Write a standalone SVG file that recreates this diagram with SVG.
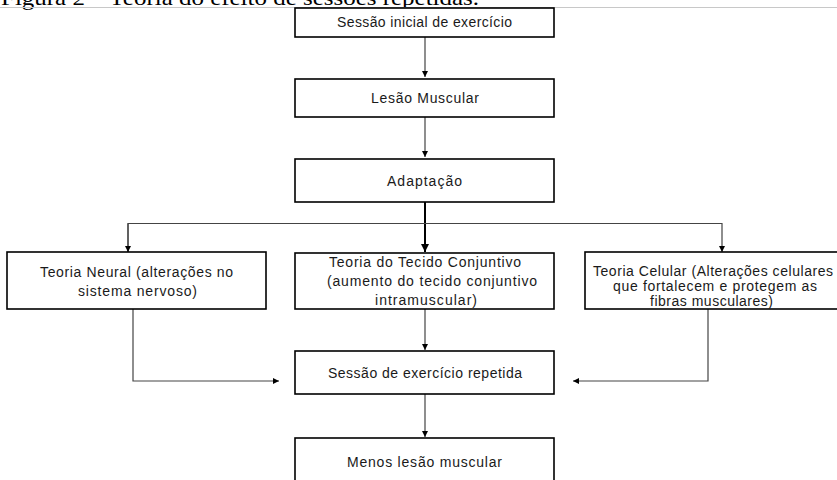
<svg xmlns="http://www.w3.org/2000/svg" width="837" height="480" viewBox="0 0 837 480">
<defs>
<marker id="ah" viewBox="0 0 10 10" refX="10" refY="5" markerWidth="6" markerHeight="6" markerUnits="userSpaceOnUse" orient="auto">
<path d="M0,0 L10,5 L0,10 z" fill="#000"/>
</marker>
<marker id="ahb" viewBox="0 0 10 10" refX="10" refY="5" markerWidth="8" markerHeight="8" markerUnits="userSpaceOnUse" orient="auto">
<path d="M0,0 L10,5 L0,10 z" fill="#000"/>
</marker>
</defs>
<style>
.box{fill:#fff;stroke:#000;stroke-width:1.6}
.t{font-family:"Liberation Sans",Arial,sans-serif;font-size:14px;fill:#1a1a1a;text-anchor:middle}
.c{fill:none;stroke:#444;stroke-width:1.2}
.cb{fill:none;stroke:#000;stroke-width:2}
.cap{font-family:"Liberation Serif","Times New Roman",serif;font-size:21px;fill:#000}
</style>
<rect width="837" height="480" fill="#fff"/>
<text class="cap" x="1" y="4.5" textLength="478" lengthAdjust="spacingAndGlyphs">Figura 2 – Teoria do efeito de sessões repetidas.</text>
<line x1="0" y1="7.5" x2="837" y2="7.5" stroke="#c8c8c8" stroke-width="1"/>
<g id="connectors">
<path class="c" d="M425,37 V77" marker-end="url(#ah)"/>
<path class="c" d="M425,117 V157" marker-end="url(#ah)"/>
<path class="cb" d="M425,202 V252" marker-end="url(#ahb)"/>
<path class="c" d="M128,252 V223.5 H722 V252" marker-end="url(#ah)"/>
<path class="c" d="M128,223.5 V252" marker-end="url(#ah)"/>
<path class="c" d="M133,309 V381 H279" marker-end="url(#ah)"/>
<path class="c" d="M708,309 V381 H573" marker-end="url(#ah)"/>
<path class="c" d="M425,309 V350" marker-end="url(#ah)"/>
<path class="c" d="M425,394 V437" marker-end="url(#ah)"/>
</g>
<g id="n1"><rect class="box" x="295" y="8" width="259" height="29"/><text class="t" x="424.5" y="27" textLength="175">Sessão inicial de exercício</text></g>
<g id="n2"><rect class="box" x="295" y="79" width="259" height="38"/><text class="t" x="425" y="103" textLength="108">Lesão Muscular</text></g>
<g id="n3"><rect class="box" x="295" y="159" width="259" height="43"/><text class="t" x="424.5" y="186" textLength="75">Adaptação</text></g>
<g id="n4"><rect class="box" x="7" y="252" width="259" height="57"/><text class="t" x="136.5" y="277" textLength="193">Teoria Neural (alterações no</text><text class="t" x="137.5" y="296" textLength="119">sistema nervoso)</text></g>
<g id="n5"><rect class="box" x="295" y="253" width="259" height="56"/><text class="t" x="425" y="267" textLength="192">Teoria do Tecido Conjuntivo</text><text class="t" x="432" y="286" textLength="210">(aumento do tecido conjuntivo</text><text class="t" x="426" y="305" textLength="102">intramuscular)</text></g>
<g id="n6"><rect class="box" x="585" y="252" width="260" height="57"/><text class="t" x="713" y="276" textLength="240">Teoria Celular (Alterações celulares</text><text class="t" x="715" y="291" textLength="204">que fortalecem e protegem as</text><text class="t" x="711.5" y="306" textLength="123">fibras musculares)</text></g>
<g id="n7"><rect class="box" x="295" y="351" width="259" height="43"/><text class="t" x="425" y="378" textLength="194">Sessão de exercício repetida</text></g>
<g id="n8"><rect class="box" x="295" y="438" width="259" height="50"/><text class="t" x="424.5" y="467" textLength="155">Menos lesão muscular</text></g>
</svg>
